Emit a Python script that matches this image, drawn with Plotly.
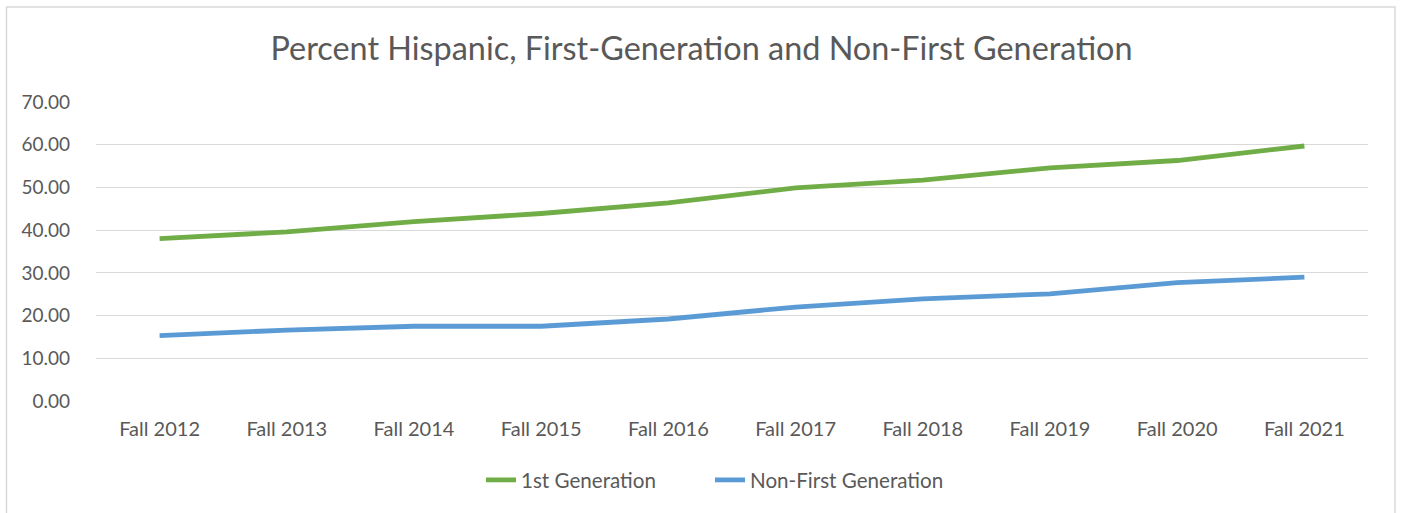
import plotly.graph_objects as go

categories = ["Fall 2012", "Fall 2013", "Fall 2014", "Fall 2015", "Fall 2016",
              "Fall 2017", "Fall 2018", "Fall 2019", "Fall 2020", "Fall 2021"]
first_gen = [38.0, 39.6, 42.0, 43.9, 46.4, 49.9, 51.7, 54.6, 56.3, 59.7]
non_first_gen = [15.3, 16.6, 17.5, 17.5, 19.2, 22.0, 23.9, 25.1, 27.7, 29.0]
y_ticks = [0, 10, 20, 30, 40, 50, 60, 70]

FONT = "Lato"
TXT = "#595959"
L, R, T, B = 96, 35, 102, 112
PW = 1403 - L - R


def px_to_paper_x(px):
    return (px - L) / PW


fig = go.Figure()
fig.add_trace(go.Scatter(x=categories, y=first_gen, mode="lines", name="1st Generation",
                         line=dict(color="#70AD47", width=4.8), legend="legend"))
fig.add_trace(go.Scatter(x=categories, y=non_first_gen, mode="lines", name="Non-First Generation",
                         line=dict(color="#5B9BD5", width=4.8), legend="legend2"))

legend_common = dict(orientation="h", xanchor="left", yref="container",
                     y=1 - 480 / 513, yanchor="middle",
                     font=dict(family=FONT, size=20.6, color=TXT),
                     bgcolor="rgba(0,0,0,0)")

fig.update_layout(
    width=1403, height=513,
    margin=dict(l=L, r=R, t=T, b=B, autoexpand=False),
    paper_bgcolor="white", plot_bgcolor="white",
    font=dict(family=FONT, color=TXT, size=18),
    title=dict(text="Percent Hispanic, First-Generation and Non-First Generation",
               x=0.5, xanchor="center", y=1 - 48.8 / 513, yanchor="middle",
               font=dict(family=FONT, size=32.4, color=TXT)),
    showlegend=True,
    legend=dict(x=px_to_paper_x(481), **legend_common),
    legend2=dict(x=px_to_paper_x(710), **legend_common),
    xaxis=dict(type="category", range=[-0.5, 9.5], showgrid=False, showline=False,
               zeroline=False, automargin=False,
               ticks="", ticklabelstandoff=14, tickfont=dict(size=20, color=TXT)),
    yaxis=dict(range=[0, 70], tickvals=y_ticks, tickformat=".2f", automargin=False,
               showgrid=True, gridcolor="#d9d9d9", gridwidth=1,
               zeroline=False, showline=False, ticks="", ticklabelstandoff=25,
               tickfont=dict(size=19, color=TXT)),
    shapes=[dict(type="rect", xref="paper", yref="paper",
                 x0=(6.5 - L) / PW, x1=(1395 - L) / PW,
                 y0=(401 - 520) / 299, y1=(401 - 7) / 299,
                 line=dict(color="#d9d9d9", width=1.5), fillcolor="rgba(0,0,0,0)", layer="below")],
)

fig.write_html("out.html", config={"displayModeBar": False},
               post_script="document.body.style.margin='0px';")
